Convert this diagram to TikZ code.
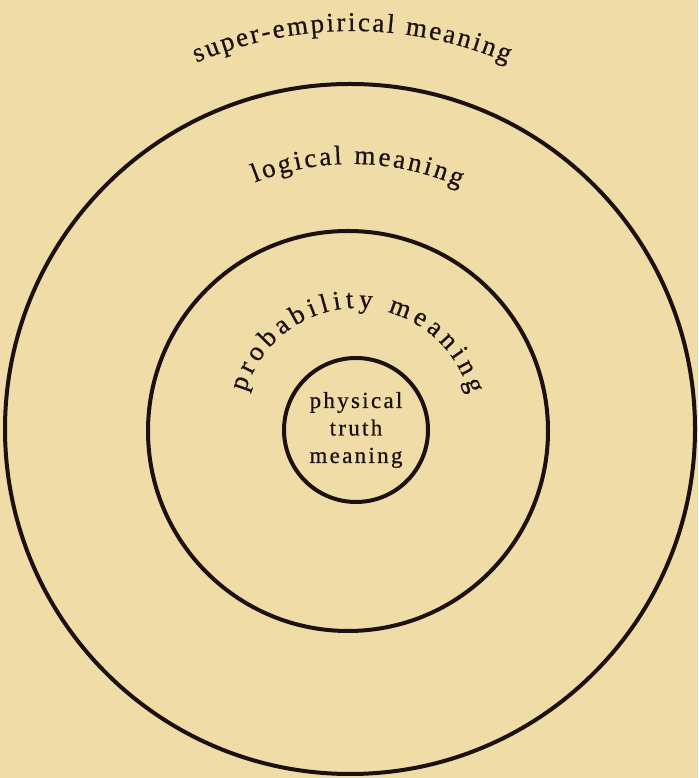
\documentclass[tikz,border=0pt]{standalone}
\usepackage{fontspec}
\setmainfont{Liberation Serif}
\newfontfamily\ringfont{Liberation Serif}[FakeBold=0.6]
\newfontfamily\corefont{Liberation Serif}[LetterSpace=10, FakeBold=0.6]
\usepackage{tikz}
\usetikzlibrary{decorations.text}
\definecolor{paper}{RGB}{239,220,166}
\definecolor{ink}{RGB}{28,16,16}

\begin{document}
\begin{tikzpicture}[
            x=1pt, y=1pt,
            ring/.style={circle, draw=ink, line width=4pt, inner sep=0pt},
            arclabel/.style={decorate, decoration={text along path, text color=ink, text align=fit to path, text={|\ringfont\fontsize{27}{32}\selectfont|#1}}}
        ]
            \fill[paper] (0,0) rectangle (698,778);
            \useasboundingbox (0,0) rectangle (698,778);
            \node[ring, minimum size=690pt] (outer) at (350,349) {};
            \node[ring, minimum size=400pt] (middle) at (348,347) {};
            \node[ring, minimum size=144pt, align=center, text=ink,
                  font=\corefont\fontsize{23}{27.5}\selectfont] (inner) at (356,348) {physical\\truth\\meaning};
            \coordinate (hub) at (352,349);
            \coordinate (core) at (357,354);
            \path[arclabel={super-empirical meaning}] ([shift={(113:398)}]hub) arc[start angle=113, end angle=67, radius=398];
            \path[arclabel={logical meaning}] ([shift={(111.5:265)}]hub) arc[start angle=111.5, end angle=66, radius=265];
            \path[arclabel={probability meaning}] ([shift={(164:116)}]core) arc[start angle=164, end angle=15, radius=116];
        \end{tikzpicture}
\end{document}
